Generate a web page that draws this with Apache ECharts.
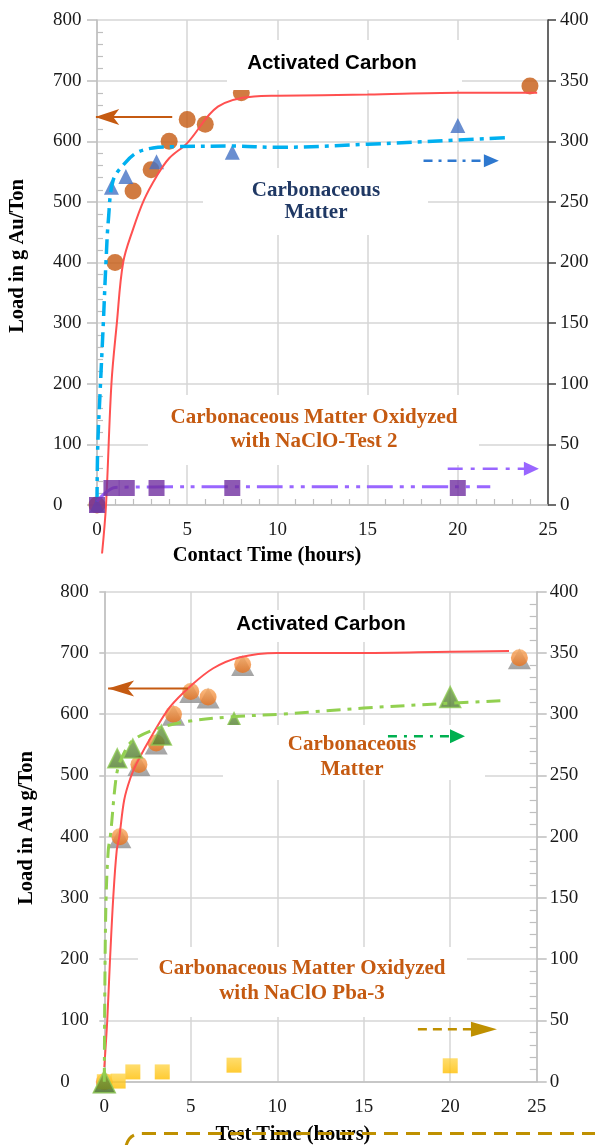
<!DOCTYPE html>
<html>
<head>
<meta charset="utf-8">
<script src="https://cdn.jsdelivr.net/npm/echarts@6/dist/echarts.min.js"></script>
<style>
  html, body { margin: 0; padding: 0; background: #fff; }
  #chart { width: 595px; height: 1145px; }
</style>
</head>
<body>
<div id="chart"></div>
<script>
// ---------- Upper panel: gold load vs contact time ----------
const acHoursA = [0, 1, 2, 3, 4, 5, 6, 8, 24];
const acLoadA = [0, 400, 518, 553, 600, 636, 628, 680, 691];
const cmHoursA = [0, 0.8, 1.6, 3.3, 7.5, 20];
const cmLoadA = [0, 262, 271, 283, 291, 313];          // right axis
const oxHoursA = [0, 0.8, 1.65, 3.3, 7.5, 20];
const oxLoadA = [0, 14, 14, 14, 14, 14];                // right axis

// fitted trend lines, upper panel
const acFitHoursA = [0.28, 0.5, 0.8, 1.1, 1.45, 2.0, 2.6, 3.3, 4.0, 5.0, 6.7, 8.7, 10, 15, 20, 24.4];
const acFitA = [-80, 0, 200, 300, 400, 455, 503, 542, 572, 597, 657, 674, 675, 677, 680, 680];
const cmFitHoursA = [0, 0.04, 0.17, 0.35, 0.5, 0.63, 0.9, 1.55, 2.2, 3.1, 4.2, 7.5, 10, 15, 20, 22.8];
const cmFitA = [2.5, 48, 92.5, 150, 201, 235, 268, 282, 290.5, 294.5, 295.5, 296, 295, 297.5, 301, 303];
const oxFitHoursA = [0, 1, 5, 10, 15, 20, 21.8];
const oxFitA = [3, 14.5, 15, 15, 15, 15, 15];

// ---------- Lower panel: gold load vs test time ----------
const acHoursB = [0, 0.9, 2, 3, 4, 5, 6, 8, 24];
const acLoadB = [0, 400, 518, 553, 600, 637, 628, 681, 692];
const cmHoursB = [0, 0.75, 1.65, 3.3, 7.5, 20];
const cmLoadB = [0, 264, 272, 283, 296, 314];          // right axis
const oxHoursB = [0, 0.8, 1.65, 3.35, 7.5, 20];
const oxLoadB = [0, 0.5, 8, 8, 13.5, 13];               // right axis

// fitted trend lines, lower panel
const acFitHoursB = [0, 0.17, 0.33, 0.52, 0.72, 0.87, 1.15, 1.5, 1.87, 2.83, 3.8, 4.95, 6.3, 7.84, 10, 15, 20, 23.4];
const acFitB = [24, 100, 199, 302, 378, 400, 460, 495, 520, 569, 612, 645, 675, 693, 700, 700, 702, 703];
const cmFitHoursB = [0, 0.03, 0.1, 0.23, 0.37, 0.62, 0.81, 1.2, 1.68, 3.0, 4.76, 7.46, 10.15, 15, 20, 22.9];
const cmFitB = [0, 75, 148, 189, 203, 241, 257, 270, 279, 288, 294, 298, 300, 305, 309, 311];

// direction arrows: [start, end] in axis units
const acArrowA = [[4.17, 640], [-0.1, 640]];
const cmArrowA = [[18.1, 284], [21.86, 284]];
const oxArrowA = [[19.44, 30], [24.08, 30]];
const acArrowB = [[4.84, 642], [0.22, 642]];
const cmArrowB = [[16.4, 282], [20.42, 282]];
const oxArrowB = [[18.13, 42.8], [21.95, 42.8]];

// tick labels
const leftTicks = [0, 100, 200, 300, 400, 500, 600, 700, 800];
const rightTicks = [0, 50, 100, 150, 200, 250, 300, 350, 400];
const hourTicks = [0, 5, 10, 15, 20, 25];

// marker sizes for the lower-panel triangles
const cmMarkSizeB = [22, 19, 19, 20, 13, 21];

const SERIF = '"Liberation Serif", "Times New Roman", serif';
const SANS = '"Liberation Sans", Arial, sans-serif';
const zip = (xs, ys) => xs.map((x, i) => [x, ys[i]]);

const gridLine = { show: true, lineStyle: { color: '#D6D6D6', width: 1.5 } };
const tickLabel = (extra) => Object.assign({ fontFamily: SERIF, fontSize: 19, color: '#1a1a1a' }, extra);

function hourAxis(gridIndex) {
  return {
    gridIndex, type: 'value', position: 'bottom',
    min: hourTicks[0], max: hourTicks[hourTicks.length - 1], interval: 5,
    axisLine: { show: true, onZero: false, lineStyle: { color: '#BFBFBF', width: 1.5 } },
    axisTick: { show: false },
    axisLabel: tickLabel({ margin: 16 }),
    splitLine: gridLine
  };
}
function twin(base, minor) {
  return Object.assign({}, base, {
    axisLine: { show: false, onZero: false },
    axisTick: { show: false, inside: true },
    minorTick: Object.assign({ show: true, splitNumber: 5, lineStyle: { color: '#BFBFBF', width: 1.2 } }, minor),
    axisLabel: { show: false },
    splitLine: { show: false },
    minorSplitLine: { show: false }
  });
}
const leftA = {
  gridIndex: 0, type: 'value', position: 'left', min: leftTicks[0], max: leftTicks[leftTicks.length - 1], interval: 100,
  axisLine: { show: true, onZero: false, lineStyle: { color: '#BFBFBF', width: 1.5 } },
  axisTick: { show: true, length: 10, lineStyle: { color: '#BFBFBF', width: 1.5 } },
  axisLabel: tickLabel({ margin: 44, align: 'left' }),
  splitLine: gridLine
};
const rightA = {
  gridIndex: 0, type: 'value', position: 'right', min: rightTicks[0], max: rightTicks[rightTicks.length - 1], interval: 50,
  axisLine: { show: true, onZero: false, lineStyle: { color: '#404040', width: 1.5 } },
  axisTick: { show: true, length: 8, lineStyle: { color: '#404040', width: 1.5 } },
  axisLabel: tickLabel({ margin: 12 }),
  splitLine: { show: false }
};
const leftB = Object.assign({}, leftA, {
  gridIndex: 1,
  axisTick: { show: true, length: 5, lineStyle: { color: '#BFBFBF', width: 1.5 } }
});
const rightB = Object.assign({}, rightA, {
  gridIndex: 1,
  axisLine: { show: true, onZero: false, lineStyle: { color: '#BFBFBF', width: 1.5 } },
  axisTick: { show: true, length: 10, lineStyle: { color: '#BFBFBF', width: 1.5 } },
  axisLabel: tickLabel({ margin: 13 })
});

const lin = (a, b) => ({ type: 'linear', x: 0, y: 0, x2: 0, y2: 1, colorStops: [{ offset: 0, color: a }, { offset: 1, color: b }] });

function arrow(xi, yi, pts, color, width, dash, symbol, head) {
  const rot = pts[1][0] < pts[0][0] ? 90 : -90;
  return {
    type: 'line', xAxisIndex: xi, yAxisIndex: yi, z: 12, clip: false, silent: true,
    symbol: 'none', emphasis: { disabled: true },
    lineStyle: { color, width, type: dash },
    data: [pts[0], { value: pts[1], symbol, symbolSize: head, symbolRotate: rot, itemStyle: { color } }]
  };
}

const textBox = (x, y, w, h) => ({ type: 'rect', shape: { x, y, width: w, height: h }, style: { fill: '#fff' }, z: 8, silent: true });
const label = (x, y, text, color, family, size, rotation, lh) => ({
  type: 'text', x, y, rotation: rotation || 0, z: 9, silent: true,
  style: {
    text, fill: color, fontFamily: family, fontSize: size, fontWeight: 'bold',
    align: 'center', verticalAlign: 'middle', textAlign: 'center', textVerticalAlign: 'middle', lineHeight: lh || 24
  }
});
const goldDash = { stroke: '#BF9000', lineWidth: 3, lineDash: [14, 8], fill: null };

const option = {
  animation: false,
  backgroundColor: '#fff',
  grid: [
    { left: 97, top: 20, width: 451, height: 485, outerBoundsMode: 'none' },
    { left: 104.3, top: 591.7, width: 432.4, height: 490, outerBoundsMode: 'none' }
  ],
  xAxis: [
    hourAxis(0),
    twin(hourAxis(0), { length: 6 }),
    hourAxis(1)
  ],
  yAxis: [
    leftA,
    rightA,
    twin(leftA, { length: 6 }),
    leftB,
    rightB,
    twin(rightB, { length: 7 })
  ],
  series: [
    // upper panel
    { type: 'scatter', name: 'Activated Carbon', xAxisIndex: 0, yAxisIndex: 0, clip: false, z: 3,
      data: zip(acHoursA, acLoadA), symbol: 'circle', symbolSize: 17, itemStyle: { color: '#C55A11' } },
    { type: 'scatter', name: 'Carbonaceous Matter', xAxisIndex: 0, yAxisIndex: 1, clip: false, z: 4,
      data: zip(cmHoursA, cmLoadA), symbol: 'triangle', symbolSize: [15, 15], itemStyle: { color: '#4472C4' } },
    { type: 'line', xAxisIndex: 0, yAxisIndex: 0, clip: false, z: 5, smooth: 0.35, symbol: 'none',
      data: zip(acFitHoursA, acFitA), lineStyle: { color: '#FF5050', width: 2 } },
    { type: 'line', xAxisIndex: 0, yAxisIndex: 1, clip: false, z: 5, smooth: 0.35, symbol: 'none',
      data: zip(cmFitHoursA, cmFitA), lineStyle: { color: '#00B0F0', width: 3.5, type: [15, 6, 4, 6] } },
    { type: 'line', xAxisIndex: 0, yAxisIndex: 1, clip: false, z: 5, smooth: 0.3, symbol: 'none',
      data: zip(oxFitHoursA, oxFitA), lineStyle: { color: '#9966FF', width: 3, type: [26, 7, 4, 7, 4, 7] } },
    { type: 'scatter', name: 'Carbonaceous Matter Oxidyzed with NaClO-Test 2', xAxisIndex: 0, yAxisIndex: 1, clip: false, z: 6,
      data: zip(oxHoursA, oxLoadA), symbol: 'rect', symbolSize: 16, itemStyle: { color: '#7030A0' } },

    // lower panel
    { type: 'scatter', xAxisIndex: 2, yAxisIndex: 3, clip: false, z: 3,
      data: zip(acHoursB, acLoadB), symbol: 'triangle', symbolSize: [23, 21], symbolOffset: [0, 1],
      itemStyle: { color: lin('#B8B8B8', '#8C8C8C') } },
    { type: 'scatter', name: 'Activated Carbon', xAxisIndex: 2, yAxisIndex: 3, clip: false, z: 4,
      data: zip(acHoursB, acLoadB), symbol: 'circle', symbolSize: 17,
      itemStyle: { color: lin('#F9A85E', '#E8701A') } },
    { type: 'scatter', name: 'Carbonaceous Matter Oxidyzed with NaClO Pba-3', xAxisIndex: 2, yAxisIndex: 4, clip: false, z: 4,
      data: zip(oxHoursB, oxLoadB), symbol: 'rect', symbolSize: 15,
      itemStyle: { color: lin('#FFD54A', '#FFBE00') } },
    { type: 'line', xAxisIndex: 2, yAxisIndex: 3, clip: false, z: 5, smooth: 0.35, symbol: 'none',
      data: zip(acFitHoursB, acFitB), lineStyle: { color: '#FF5050', width: 2 } },
    { type: 'scatter', name: 'Carbonaceous Matter', xAxisIndex: 2, yAxisIndex: 4, clip: false, z: 6,
      data: zip(cmHoursB, cmLoadB).map((p, i) => ({ value: p, symbolSize: cmMarkSizeB[i] })),
      symbol: 'triangle', itemStyle: { color: lin('#6E9E42', '#4E7A2E'), borderColor: '#8FCB55', borderWidth: 1.5 } },
    { type: 'line', xAxisIndex: 2, yAxisIndex: 4, clip: false, z: 7, smooth: 0.35, symbol: 'none',
      data: zip(cmFitHoursB, cmFitB), lineStyle: { color: '#92D050', width: 3, type: [14, 7, 4, 7] } },

    // direction arrows
    arrow(0, 0, acArrowA, '#C55A11', 2, 'solid', 'arrow', [12, 24]),
    arrow(0, 1, cmArrowA, '#2E78CF', 2.5, [9, 6, 3, 6], 'triangle', [13, 15]),
    arrow(0, 1, oxArrowA, '#9966FF', 2.5, [15, 8, 4, 8], 'triangle', [14, 15]),
    arrow(2, 3, acArrowB, '#C55A11', 2, 'solid', 'arrow', [12, 26]),
    arrow(2, 4, cmArrowB, '#00B050', 2.5, [9, 7, 3, 7], 'triangle', [14, 15]),
    arrow(2, 4, oxArrowB, '#BF9000', 2.5, [9, 6], 'triangle', [15, 26])
  ],
  graphic: [
    // white panels behind the in-plot captions
    textBox(227, 40, 235, 50),
    textBox(203, 168, 225, 67),
    textBox(148, 395, 331, 70),
    textBox(228, 610, 190, 32),
    textBox(223, 725, 262, 55),
    textBox(138, 947, 329, 70),

    label(332, 63, 'Activated Carbon', '#000', SANS, 20.5),
    label(316, 202, 'Carbonaceous\nMatter', '#1F3864', SERIF, 21, 0, 22),
    label(314, 430, 'Carbonaceous Matter Oxidyzed\nwith NaClO-Test 2', '#C55A11', SERIF, 21),
    label(321, 624, 'Activated Carbon', '#000', SANS, 20.5),
    label(352, 757, 'Carbonaceous\nMatter', '#C55A11', SERIF, 21, 0, 25),
    label(302, 981, 'Carbonaceous Matter Oxidyzed\nwith NaClO Pba-3', '#C55A11', SERIF, 21, 0, 25),

    // axis titles
    label(267, 556, 'Contact Time (hours)', '#000', SERIF, 20.5),
    label(18, 256, 'Load in g Au/Ton', '#000', SERIF, 20.5, Math.PI / 2),
    label(293, 1135, 'Test Time (hours)', '#000', SERIF, 20.5),
    label(27, 828, 'Load in Au g/Ton', '#000', SERIF, 20.5, Math.PI / 2),

    // dashed outline running under the lower panel
    { type: 'bezierCurve', z: 10, silent: true,
      shape: { x1: 126, y1: 1146, cpx1: 129, cpy1: 1133.5, x2: 142, y2: 1133.5 },
      style: goldDash },
    { type: 'line', z: 10, silent: true,
      shape: { x1: 142, y1: 1133.5, x2: 600, y2: 1133.5 },
      style: goldDash }
  ]
};

const chart = echarts.init(document.getElementById('chart'), null, { renderer: 'canvas' });
chart.setOption(option);
</script>
</body>
</html>
